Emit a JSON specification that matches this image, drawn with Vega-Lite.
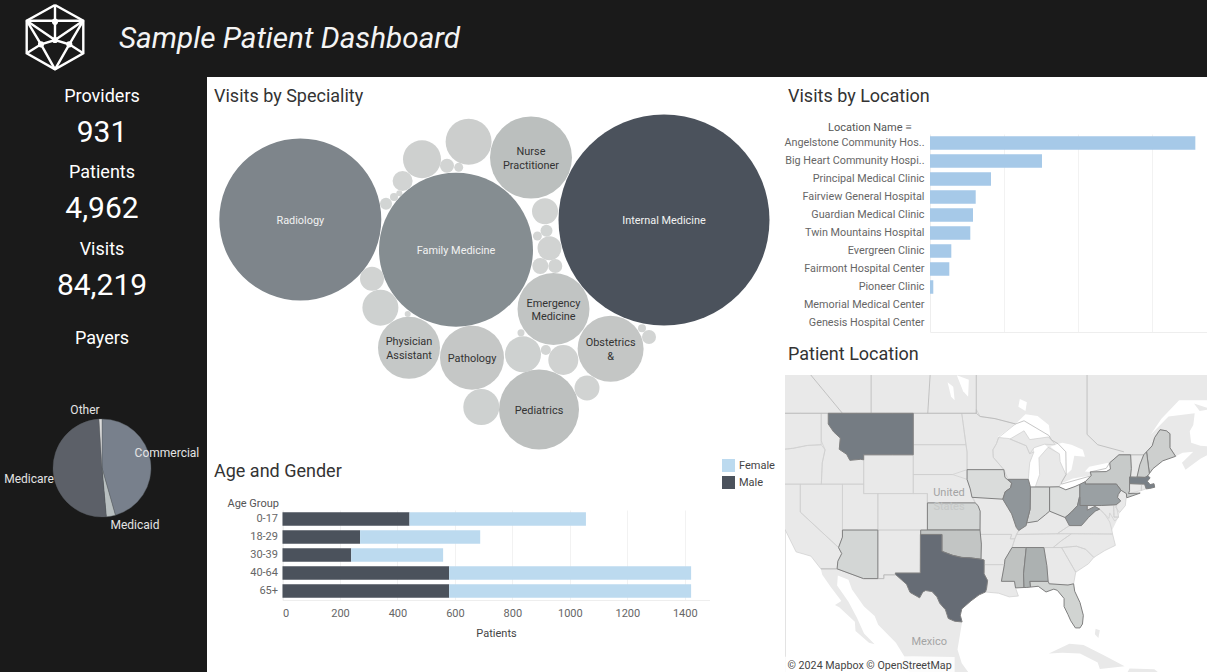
{"$schema":"https://vega.github.io/schema/vega-lite/v6.json","padding":0,"background":"#ffffff","autosize":{"type":"pad"},"config":{"font":"Roboto","view":{"stroke":null},"axis":{"labelFont":"Roboto","titleFont":"Roboto"},"legend":{"labelFont":"Roboto"},"title":{"font":"Roboto"}},"datasets":{
"logo":[{"seg":"hex","step":1,"x":55,"y":5},{"seg":"hex","step":2,"x":83.3,"y":20.7},{"seg":"hex","step":3,"x":83.3,"y":53.3},{"seg":"hex","step":4,"x":55,"y":69.3},{"seg":"hex","step":5,"x":26.7,"y":53.3},{"seg":"hex","step":6,"x":26.7,"y":20.7},{"seg":"hex","step":7,"x":55,"y":5},{"seg":"h","step":1,"x":26.7,"y":20.7},{"seg":"h","step":2,"x":83.3,"y":20.7},{"seg":"v","step":1,"x":55,"y":5},{"seg":"v","step":2,"x":55,"y":40},{"seg":"a","step":1,"x":26.7,"y":20.7},{"seg":"a","step":2,"x":55,"y":40},{"seg":"a","step":3,"x":83.3,"y":20.7},{"seg":"b","step":1,"x":26.7,"y":20.7},{"seg":"b","step":2,"x":41,"y":44.3},{"seg":"b","step":3,"x":55,"y":69.3},{"seg":"c","step":1,"x":83.3,"y":20.7},{"seg":"c","step":2,"x":69.3,"y":44.3},{"seg":"c","step":3,"x":55,"y":69.3},{"seg":"d","step":1,"x":26.7,"y":53.3},{"seg":"d","step":2,"x":41,"y":44.3},{"seg":"d","step":3,"x":55,"y":40},{"seg":"d","step":4,"x":69.3,"y":44.3},{"seg":"d","step":5,"x":83.3,"y":53.3}],
"logoNodes":[{"x":55,"y":21.7},{"x":41,"y":44.3},{"x":69.3,"y":44.3},{"x":55,"y":40}],
"payers":[{"payer":"Commercial","share":45.6,"rank":1,"labelAngle":76.7,"labelRadius":65.2},{"payer":"Medicaid","share":3,"rank":2,"labelAngle":151.1,"labelRadius":65.1},{"payer":"Medicare","share":50.4,"rank":3,"labelAngle":261.6,"labelRadius":75.3},{"payer":"Other","share":1,"rank":4,"labelAngle":342.3,"labelRadius":60.9}],
"bubbles":[{"specialty":"Internal Medicine","label":"Internal Medicine","visits":27158,"px":450,"py":110},{"specialty":"Radiology","label":"Radiology","visits":16009,"px":86.3,"py":109.5},{"specialty":"Family Medicine","label":"Family Medicine","visits":14467,"px":242,"py":139.7},{"specialty":"Nurse Practitioner","label":"Nurse\nPractitioner","visits":4102,"px":317,"py":47.5},{"specialty":"Pediatrics","label":"Pediatrics","visits":3904,"px":325,"py":299.5},{"specialty":"Emergency Medicine","label":"Emergency\nMedicine","visits":3162,"px":339.5,"py":199},{"specialty":"Obstetrics &","label":"Obstetrics\n&","visits":2657,"px":396.6,"py":238.8},{"specialty":"Pathology","label":"Pathology","visits":2499,"px":258,"py":247.7},{"specialty":"Physician Assistant","label":"Physician\nAssistant","visits":2345,"px":195,"py":237.8},{"specialty":"Other 1","visits":1291,"px":254.6,"py":31.7},{"specialty":"Other 2","visits":881,"px":208,"py":49.3},{"specialty":"Other 3","visits":244,"px":188.6,"py":71},{"specialty":"Other 4","visits":120,"px":233,"py":55.7},{"specialty":"Other 5","visits":49,"px":244.7,"py":57.3},{"specialty":"Other 6","visits":22,"px":185.3,"py":83.3},{"specialty":"Other 7","visits":39,"px":180,"py":87},{"specialty":"Other 8","visits":88,"px":172,"py":93.7},{"specialty":"Other 9","visits":412,"px":331,"py":101.3},{"specialty":"Other 10","visits":88,"px":332.5,"py":120.7},{"specialty":"Other 11","visits":49,"px":323.4,"py":126},{"specialty":"Other 12","visits":351,"px":335.5,"py":138.3},{"specialty":"Other 13","visits":156,"px":326.3,"py":156},{"specialty":"Other 14","visits":120,"px":341.3,"py":156},{"specialty":"Other 15","visits":351,"px":158,"py":168.7},{"specialty":"Other 16","visits":791,"px":166.4,"py":197.7},{"specialty":"Other 17","visits":22,"px":193.7,"py":204},{"specialty":"Other 18","visits":30,"px":307,"py":222.7},{"specialty":"Other 19","visits":791,"px":309,"py":244.3},{"specialty":"Other 20","visits":61,"px":331.8,"py":240},{"specialty":"Other 21","visits":549,"px":349.3,"py":250},{"specialty":"Other 22","visits":39,"px":428,"py":218.3},{"specialty":"Other 23","visits":120,"px":435,"py":227},{"specialty":"Other 24","visits":381,"px":373,"py":278},{"specialty":"Other 25","visits":791,"px":267.3,"py":297}],
"age":[{"group":"0-17","gender":"Male","rank":1,"patients":442},{"group":"0-17","gender":"Female","rank":2,"patients":614},{"group":"18-29","gender":"Male","rank":1,"patients":270},{"group":"18-29","gender":"Female","rank":2,"patients":418},{"group":"30-39","gender":"Male","rank":1,"patients":239},{"group":"30-39","gender":"Female","rank":2,"patients":320},{"group":"40-64","gender":"Male","rank":1,"patients":580},{"group":"40-64","gender":"Female","rank":2,"patients":842},{"group":"65+","gender":"Male","rank":1,"patients":580},{"group":"65+","gender":"Female","rank":2,"patients":842}],
"locations":[{"name":"Angelstone Community Hos..","visits":35850},{"name":"Big Heart Community Hospi..","visits":15130},{"name":"Principal Medical Clinic","visits":8240},{"name":"Fairview General Hospital","visits":6175},{"name":"Guardian Medical Clinic","visits":5810},{"name":"Twin Mountains Hospital","visits":5445},{"name":"Evergreen Clinic","visits":2880},{"name":"Fairmont Hospital Center","visits":2610},{"name":"Pioneer Clinic","visits":445},{"name":"Memorial Medical Center","visits":0},{"name":"Genesis Hospital Center","visits":0}],
"land":[{"type":"Feature","properties":{"name":"North America"},"geometry":{"type":"Polygon","coordinates":[[[-130,54],[-95,54],[-60,54],[-60,50.2],[-66.5,50.2],[-69,48.5],[-70.5,47],[-68,48.7],[-64.3,49],[-64.5,47.9],[-65,47.3],[-64.8,46.2],[-63.5,45.9],[-61.5,45.8],[-60,46.5],[-60,45.9],[-63.5,44.6],[-65.6,43.5],[-66.1,44.2],[-64.5,45.3],[-66,45.2],[-67,44.85],[-68.8,44.4],[-70.2,43.6],[-70.7,43.1],[-70.9,42.88],[-70.6,42.65],[-71,42.3],[-70.6,41.95],[-70.05,42.05],[-69.95,41.67],[-70.65,41.55],[-71.15,41.5],[-71.85,41.32],[-73.65,41],[-74.05,40.6],[-74,40.4],[-74.1,39.7],[-74.9,38.95],[-75.05,38.45],[-75.9,37.1],[-76,37],[-75.9,36.55],[-75.5,35.25],[-77,34.65],[-78.55,33.85],[-79.3,33.1],[-81.1,32.1],[-81.4,30.7],[-81.25,29.8],[-80.5,28.4],[-80.03,26.8],[-80.15,25.7],[-80.5,25.2],[-81.15,25.2],[-81.8,26.1],[-82.2,26.9],[-82.75,27.9],[-82.75,28.9],[-83.7,29.9],[-84.2,30.05],[-85.3,29.7],[-86.4,30.4],[-87.5,30.3],[-88.4,30.25],[-89.6,30.2],[-89.2,29.2],[-90.5,29.1],[-92,29.55],[-93.85,29.7],[-94.75,29.35],[-95.9,28.6],[-97.2,27.6],[-97.4,26.8],[-97.15,25.96],[-97.8,22.4],[-97.2,20.6],[-96.1,19.2],[-95,18.6],[-94.4,18.2],[-94.5,16],[-100,16.8],[-105.5,20],[-105.3,21.5],[-106.5,23.3],[-109,25.6],[-109.5,26.7],[-111,27.9],[-112.7,30],[-113.2,31.2],[-114.7,31.7],[-114.8,30.5],[-113.2,28.5],[-112,26.5],[-111,24.5],[-109.5,23.1],[-110.3,23.3],[-112.2,24.8],[-112.3,26],[-114.5,27.8],[-115.1,28.1],[-114.2,28.6],[-115.7,30.3],[-116.9,31.8],[-117.1,32.5],[-118.5,34],[-120.6,34.5],[-122,36.8],[-123.8,39.5],[-124.2,42],[-124.5,43],[-124,46.25],[-124.7,48.4],[-123,48.3],[-125,50],[-130,54]]]}},{"type":"Feature","properties":{"name":"Cuba"},"geometry":{"type":"Polygon","coordinates":[[[-84.9,21.9],[-82,23.15],[-80,23],[-77,21.6],[-74.2,20.2],[-77.7,19.85],[-78,20.7],[-80.5,21.9],[-83,22],[-84.9,21.9]]]}},{"type":"Feature","properties":{"name":"Hispaniola"},"geometry":{"type":"Polygon","coordinates":[[[-73.5,19.9],[-70,19.8],[-68.4,18.6],[-71,18],[-74.4,18.4],[-73.5,19.9]]]}},{"type":"Feature","properties":{"name":"Andros"},"geometry":{"type":"Polygon","coordinates":[[[-78.3,25.1],[-77.7,24.9],[-77.9,23.9],[-78.4,24.4],[-78.3,25.1]]]}},{"type":"Feature","properties":{"name":"Anticosti"},"geometry":{"type":"Polygon","coordinates":[[[-64.4,49.9],[-62,49.4],[-63.6,49.2],[-64.4,49.9]]]}}],
"lakes":[{"type":"Feature","properties":{"name":"Superior"},"geometry":{"type":"Polygon","coordinates":[[[-92.1,46.75],[-89.6,48],[-88.2,48.9],[-86.5,48.75],[-84.9,47.9],[-84.7,46.9],[-85,46.75],[-87.6,46.5],[-88.4,47.35],[-90.4,46.55],[-92.1,46.75]]]}},{"type":"Feature","properties":{"name":"Michigan"},"geometry":{"type":"Polygon","coordinates":[[[-87,45.7],[-85.5,46.05],[-85,45.75],[-86.3,44.7],[-86.2,43],[-86.8,41.75],[-87.5,41.7],[-87.8,42.5],[-87.6,44.2],[-87,45.3],[-87,45.7]]]}},{"type":"Feature","properties":{"name":"Huron"},"geometry":{"type":"Polygon","coordinates":[[[-84,46],[-83,46.2],[-81.7,46],[-80.1,45.5],[-79.8,44.8],[-81.3,44.9],[-81.7,43.5],[-82.45,43],[-83.3,44.3],[-83.4,45.1],[-84.7,45.8],[-84,46]]]}},{"type":"Feature","properties":{"name":"Erie"},"geometry":{"type":"Polygon","coordinates":[[[-83.1,42.1],[-81.5,42.6],[-79,42.9],[-78.9,42.85],[-79.76,42.26],[-80.52,41.98],[-81.2,41.75],[-82.5,41.4],[-83.45,41.72],[-83.1,42.1]]]}},{"type":"Feature","properties":{"name":"Ontario"},"geometry":{"type":"Polygon","coordinates":[[[-79.8,43.3],[-79.2,43.8],[-76.5,44.2],[-76.2,43.55],[-76.8,43.3],[-79.05,43.27],[-79.8,43.3]]]}},{"type":"Feature","properties":{"name":"Lake Manitoba"},"geometry":{"type":"Polygon","coordinates":[[[-99.2,51.8],[-98.4,51.4],[-98.2,50.2],[-98.7,50.5],[-99.2,51.8]]]}},{"type":"Feature","properties":{"name":"Lake Winnipeg"},"geometry":{"type":"Polygon","coordinates":[[[-97.9,52.4],[-96.2,52],[-96.3,50.5],[-97,51],[-97.9,52.4]]]}},{"type":"Feature","properties":{"name":"Nipigon"},"geometry":{"type":"Polygon","coordinates":[[[-89,50.3],[-88,50],[-88.2,49.2],[-89.2,49.6],[-89,50.3]]]}}],
"plainStates":[{"type":"Feature","properties":{"name":"Wyoming"},"geometry":{"type":"Polygon","coordinates":[[[-111.05,45],[-104.05,45],[-104.05,41],[-111.05,41],[-111.05,45]]]}},{"type":"Feature","properties":{"name":"Colorado"},"geometry":{"type":"Polygon","coordinates":[[[-109.05,41],[-102.05,41],[-102.05,37],[-109.05,37],[-109.05,41]]]}},{"type":"Feature","properties":{"name":"New Mexico"},"geometry":{"type":"Polygon","coordinates":[[[-109.05,37],[-103,37],[-103.05,32],[-106.6,32],[-106.5,31.78],[-108.2,31.78],[-108.2,31.33],[-109.05,31.33],[-109.05,37]]]}},{"type":"Feature","properties":{"name":"Utah"},"geometry":{"type":"Polygon","coordinates":[[[-114.05,42],[-111.05,42],[-111.05,41],[-109.05,41],[-109.05,37],[-114.05,37],[-114.05,42]]]}},{"type":"Feature","properties":{"name":"Nevada"},"geometry":{"type":"Polygon","coordinates":[[[-120,42],[-114.05,42],[-114.05,36.2],[-114.6,35],[-120,39],[-120,42]]]}},{"type":"Feature","properties":{"name":"Idaho"},"geometry":{"type":"Polygon","coordinates":[[[-117.05,49],[-116.05,49],[-116.05,48],[-115.3,47.25],[-114.35,46.65],[-114.5,45.55],[-113.45,45.05],[-113,44.45],[-111.5,44.55],[-111.05,44.5],[-111.05,42],[-117.03,42],[-116.9,44.2],[-116.5,45.5],[-117.05,46.4],[-117.05,49]]]}},{"type":"Feature","properties":{"name":"Washington"},"geometry":{"type":"Polygon","coordinates":[[[-124.7,48.4],[-123,48.3],[-122.8,49],[-117.05,49],[-117.05,46],[-119,45.93],[-121,45.65],[-122.3,45.55],[-123.2,46.15],[-124,46.25],[-124.7,48.4]]]}},{"type":"Feature","properties":{"name":"Oregon"},"geometry":{"type":"Polygon","coordinates":[[[-124,46.25],[-123.2,46.15],[-122.3,45.55],[-121,45.65],[-119,45.93],[-117.05,46],[-116.5,45.5],[-116.9,44.2],[-117.03,42],[-124.2,42],[-124.5,43],[-124,46.25]]]}},{"type":"Feature","properties":{"name":"California"},"geometry":{"type":"Polygon","coordinates":[[[-124.2,42],[-120,42],[-120,39],[-114.6,35],[-114.15,34.3],[-114.7,33.4],[-114.8,32.5],[-117.1,32.5],[-118.5,34],[-120.6,34.5],[-122,36.8],[-123.8,39.5],[-124.2,42]]]}},{"type":"Feature","properties":{"name":"North Dakota"},"geometry":{"type":"Polygon","coordinates":[[[-104.05,49],[-100,49],[-97.2,49],[-96.6,46],[-104.05,46],[-104.05,49]]]}},{"type":"Feature","properties":{"name":"South Dakota"},"geometry":{"type":"Polygon","coordinates":[[[-104.05,46],[-96.6,46],[-96.45,45.3],[-96.45,43.5],[-98.5,43],[-104.05,43],[-104.05,46]]]}},{"type":"Feature","properties":{"name":"Nebraska"},"geometry":{"type":"Polygon","coordinates":[[[-104.05,43],[-98.5,43],[-96.45,42.5],[-96,41.5],[-95.3,40],[-102.05,40],[-102.05,41],[-104.05,41],[-104.05,43]]]}},{"type":"Feature","properties":{"name":"Minnesota"},"geometry":{"type":"Polygon","coordinates":[[[-97.2,49],[-95.15,49],[-95.15,49.35],[-94.6,48.7],[-92.5,48.5],[-89.6,48],[-92,46.7],[-92.3,46.1],[-92.8,45.5],[-92.75,44.75],[-91.25,43.5],[-96.45,43.5],[-96.45,45.3],[-96.6,46],[-97.2,49]]]}},{"type":"Feature","properties":{"name":"Missouri"},"geometry":{"type":"Polygon","coordinates":[[[-95.75,40.6],[-91.7,40.6],[-91.4,40.4],[-90.7,39.5],[-90.15,38.8],[-89.5,37.3],[-89.15,36.95],[-89.7,36],[-90.35,36],[-90.15,36.5],[-94.62,36.5],[-94.62,39.1],[-94.9,39.7],[-95.3,40],[-95.75,40.6]]]}},{"type":"Feature","properties":{"name":"Arkansas"},"geometry":{"type":"Polygon","coordinates":[[[-94.62,36.5],[-90.15,36.5],[-90.35,36],[-89.7,36],[-90.1,35],[-91.1,33.6],[-91.17,33],[-94.04,33],[-94.04,33.55],[-94.48,33.64],[-94.43,35.4],[-94.62,36.5]]]}},{"type":"Feature","properties":{"name":"Louisiana"},"geometry":{"type":"Polygon","coordinates":[[[-94.04,33],[-91.17,33],[-91.6,31],[-89.75,31],[-89.6,30.2],[-89.2,29.2],[-90.5,29.1],[-92,29.55],[-93.85,29.7],[-93.7,30.1],[-93.55,31.1],[-94.05,31.9],[-94.04,33]]]}},{"type":"Feature","properties":{"name":"Georgia"},"geometry":{"type":"Polygon","coordinates":[[[-85.6,35],[-83.1,35],[-81.1,32.1],[-81.4,30.7],[-82,30.55],[-84.85,30.7],[-85,31],[-85.18,32.87],[-85.6,35]]]}},{"type":"Feature","properties":{"name":"South Carolina"},"geometry":{"type":"Polygon","coordinates":[[[-83.1,35],[-81,35.15],[-79.7,34.8],[-78.55,33.85],[-79.3,33.1],[-81.1,32.1],[-83.1,35]]]}},{"type":"Feature","properties":{"name":"North Carolina"},"geometry":{"type":"Polygon","coordinates":[[[-81.7,36.58],[-75.9,36.55],[-75.5,35.25],[-77,34.65],[-78.55,33.85],[-79.7,34.8],[-81,35.15],[-83.1,35],[-84.3,35],[-83.1,35.8],[-81.7,36.58]]]}},{"type":"Feature","properties":{"name":"Tennessee"},"geometry":{"type":"Polygon","coordinates":[[[-89.5,36.5],[-81.7,36.58],[-83.1,35.8],[-84.3,35],[-85.6,35],[-88.2,35],[-90.1,35],[-89.7,36],[-89.5,36.5]]]}},{"type":"Feature","properties":{"name":"Kentucky"},"geometry":{"type":"Polygon","coordinates":[[[-84.8,39.1],[-82.6,38.4],[-82,37.5],[-83.68,36.6],[-89.5,36.5],[-89.15,36.95],[-88.1,37.8],[-86.5,38],[-85.4,38.7],[-84.8,39.1]]]}},{"type":"Feature","properties":{"name":"Virginia"},"geometry":{"type":"Polygon","coordinates":[[[-83.68,36.6],[-82,37.5],[-80.3,37.5],[-79.3,38.4],[-78.35,39.1],[-77.72,39.32],[-77.05,38.8],[-76.3,37.9],[-76,37],[-75.9,36.55],[-81.7,36.58],[-83.68,36.6]]]}},{"type":"Feature","properties":{"name":"Wisconsin"},"geometry":{"type":"Polygon","coordinates":[[[-92,46.7],[-90.5,46.6],[-88.1,45.9],[-87.6,45.1],[-87,45.3],[-87.6,44.2],[-87.8,42.5],[-90.65,42.5],[-91.25,43.5],[-92.75,44.75],[-92.8,45.5],[-92.3,46.1],[-92,46.7]]]}},{"type":"Feature","properties":{"name":"Michigan Upper"},"geometry":{"type":"Polygon","coordinates":[[[-90.4,46.55],[-88.4,47.35],[-87.6,46.5],[-85,46.75],[-84.5,46.45],[-84,46],[-85.5,46.05],[-87,45.7],[-87.6,45.1],[-88.1,45.9],[-90.4,46.55]]]}},{"type":"Feature","properties":{"name":"Michigan Lower"},"geometry":{"type":"Polygon","coordinates":[[[-85,45.75],[-83.4,45.1],[-83.3,44.3],[-82.5,43],[-83.1,42.2],[-83.45,41.72],[-84.8,41.7],[-86.8,41.75],[-86.2,43],[-86.3,44.7],[-85,45.75]]]}},{"type":"Feature","properties":{"name":"New Jersey"},"geometry":{"type":"Polygon","coordinates":[[[-74.7,41.35],[-73.9,41],[-74,40.4],[-74.1,39.7],[-74.9,38.95],[-75.5,39.55],[-74.75,40.2],[-75.2,40.6],[-75.1,40.9],[-74.7,41.35]]]}},{"type":"Feature","properties":{"name":"Delaware"},"geometry":{"type":"Polygon","coordinates":[[[-75.75,39.72],[-75.4,39.8],[-75.05,38.45],[-75.7,38.45],[-75.75,39.72]]]}},{"type":"Feature","properties":{"name":"Maryland"},"geometry":{"type":"Polygon","coordinates":[[[-79.48,39.72],[-75.75,39.72],[-75.7,38.45],[-75.05,38.45],[-75.6,38],[-76.3,38.9],[-76.4,38.3],[-77.05,38.8],[-77.7,39.3],[-78.4,39.62],[-79.48,39.2],[-79.48,39.72]]]}},{"type":"Feature","properties":{"name":"Connecticut"},"geometry":{"type":"Polygon","coordinates":[[[-73.5,42.05],[-71.8,42],[-71.85,41.32],[-73.65,41],[-73.5,42.05]]]}},{"type":"Feature","properties":{"name":"Rhode Island"},"geometry":{"type":"Polygon","coordinates":[[[-71.8,42],[-71.38,42],[-71.15,41.5],[-71.85,41.32],[-71.8,42]]]}},{"type":"Feature","properties":{"name":"Vermont"},"geometry":{"type":"Polygon","coordinates":[[[-73.35,45],[-71.5,45],[-72.05,44],[-72.45,42.73],[-73.27,42.75],[-73.25,43.6],[-73.35,45]]]}}],
"patientStates":[{"type":"Feature","properties":{"name":"Ohio","patients":100},"geometry":{"type":"Polygon","coordinates":[[[-84.8,41.7],[-83.45,41.72],[-82.5,41.4],[-81.2,41.75],[-80.52,41.98],[-80.52,40.64],[-80.85,39.7],[-81.7,39],[-82.6,38.4],[-84.8,39.1],[-84.8,41.7]]]}},{"type":"Feature","properties":{"name":"Iowa","patients":115},"geometry":{"type":"Polygon","coordinates":[[[-96.45,43.5],[-91.25,43.5],[-91.1,42.7],[-90.15,42.1],[-90.3,41.6],[-91.05,41.2],[-91.4,40.4],[-95.75,40.6],[-96,41.5],[-96.45,42.5],[-96.45,43.5]]]}},{"type":"Feature","properties":{"name":"Indiana","patients":125},"geometry":{"type":"Polygon","coordinates":[[[-87.5,41.7],[-84.8,41.7],[-84.8,39.1],[-85.4,38.7],[-86.5,38],[-88.05,37.8],[-87.55,39.3],[-87.5,41.7]]]}},{"type":"Feature","properties":{"name":"Kansas","patients":145},"geometry":{"type":"Polygon","coordinates":[[[-102.05,40],[-98,40],[-95.3,40],[-94.9,39.7],[-94.6,39.1],[-94.62,37],[-98,37],[-102.05,37],[-102.05,40]]]}},{"type":"Feature","properties":{"name":"Arizona","patients":145},"geometry":{"type":"Polygon","coordinates":[[[-114.05,37],[-109.05,37],[-109.05,31.33],[-111.07,31.33],[-114.8,32.5],[-114.7,33.4],[-114.15,34.3],[-114.6,35],[-114.05,36.2],[-114.05,37]]]}},{"type":"Feature","properties":{"name":"Florida","patients":155},"geometry":{"type":"Polygon","coordinates":[[[-87.6,31],[-85,31],[-84.85,30.7],[-82.2,30.55],[-81.4,30.7],[-81.25,29.8],[-80.5,28.4],[-80.03,26.8],[-80.15,25.7],[-80.5,25.2],[-81.15,25.2],[-81.8,26.1],[-82.2,26.9],[-82.75,27.9],[-82.75,28.9],[-83.7,29.9],[-84.2,30.05],[-85.3,29.7],[-86.4,30.4],[-87.5,30.3],[-87.6,31]]]}},{"type":"Feature","properties":{"name":"Maine","patients":175},"geometry":{"type":"Polygon","coordinates":[[[-71.1,45.3],[-70.3,45.9],[-69.95,46.7],[-69.2,47.45],[-68.3,47.35],[-67.8,47.07],[-67.8,45.7],[-67,44.85],[-68.8,44.4],[-70.2,43.6],[-70.7,43.1],[-71.1,45.3]]]}},{"type":"Feature","properties":{"name":"New Hampshire","patients":175},"geometry":{"type":"Polygon","coordinates":[[[-71.5,45],[-71.1,45.3],[-70.7,43.1],[-70.9,42.88],[-71.3,42.7],[-72.45,42.73],[-72.05,44],[-71.5,45]]]}},{"type":"Feature","properties":{"name":"New York","patients":200},"geometry":{"type":"Polygon","coordinates":[[[-79.76,42.26],[-78.9,42.9],[-79.05,43.27],[-76.8,43.3],[-76.2,43.55],[-76.3,44.2],[-75,45],[-73.35,45],[-73.25,43.6],[-73.5,42.05],[-73.5,41.3],[-73.65,41],[-72,41.05],[-73.9,40.55],[-73.95,41],[-74.7,41.35],[-75.35,42],[-79.76,42],[-79.76,42.26]]]}},{"type":"Feature","properties":{"name":"Oklahoma","patients":225},"geometry":{"type":"Polygon","coordinates":[[[-103,37],[-98,37],[-94.62,37],[-94.43,35.4],[-94.48,33.64],[-96,33.8],[-97.2,33.85],[-98.5,34.1],[-100,34.56],[-100,36.5],[-103,36.5],[-103,37]]]}},{"type":"Feature","properties":{"name":"Mississippi","patients":240},"geometry":{"type":"Polygon","coordinates":[[[-90.1,35],[-88.2,35],[-88.1,34.9],[-88.47,31.9],[-88.4,30.25],[-89.6,30.2],[-89.75,31],[-91.6,31],[-91.17,33],[-91.1,33.6],[-90.1,35]]]}},{"type":"Feature","properties":{"name":"Alabama","patients":320},"geometry":{"type":"Polygon","coordinates":[[[-88.2,35],[-85.6,35],[-85.18,32.87],[-85,31],[-87.6,31],[-87.5,30.3],[-88.1,30.25],[-88.4,30.25],[-88.47,31.9],[-88.1,34.9],[-88.2,35]]]}},{"type":"Feature","properties":{"name":"Pennsylvania","patients":400},"geometry":{"type":"Polygon","coordinates":[[[-80.52,41.98],[-79.76,42.26],[-79.76,42],[-75.35,42],[-74.7,41.35],[-75.1,40.9],[-75.2,40.6],[-74.75,40.2],[-75.4,39.8],[-77.5,39.72],[-80.52,39.72],[-80.52,41.98]]]}},{"type":"Feature","properties":{"name":"West Virginia","patients":450},"geometry":{"type":"Polygon","coordinates":[[[-82.6,38.4],[-81.7,39],[-80.85,39.7],[-80.6,40.62],[-80.52,40.64],[-80.52,39.72],[-79.48,39.72],[-79.48,39.2],[-78.4,39.62],[-77.72,39.32],[-78.35,39.1],[-79.3,38.4],[-80.3,37.5],[-82,37.5],[-82.6,38.4]]]}},{"type":"Feature","properties":{"name":"Illinois","patients":460},"geometry":{"type":"Polygon","coordinates":[[[-90.65,42.5],[-87.8,42.5],[-87.5,41.7],[-87.55,39.3],[-88.05,37.8],[-88.1,37.5],[-89.15,36.95],[-89.5,37.3],[-90.15,38.8],[-90.7,39.5],[-91.4,40.4],[-91.05,41.2],[-90.3,41.6],[-90.15,42.1],[-90.65,42.5]]]}},{"type":"Feature","properties":{"name":"Massachusetts","patients":600},"geometry":{"type":"Polygon","coordinates":[[[-73.5,42.75],[-71.3,42.7],[-70.9,42.88],[-70.6,42.65],[-71,42.3],[-70.6,41.95],[-70.05,42.05],[-69.95,41.67],[-70.65,41.55],[-71.15,41.5],[-71.38,42],[-71.8,42],[-73.5,42.05],[-73.5,42.75]]]}},{"type":"Feature","properties":{"name":"Montana","patients":630},"geometry":{"type":"Polygon","coordinates":[[[-116.05,49],[-113,49],[-110,49],[-107,49],[-104.05,49],[-104.05,45],[-107,45],[-111.05,45],[-111.05,44.5],[-111.5,44.55],[-113,44.45],[-113.45,45.05],[-114.5,45.55],[-114.35,46.65],[-115.3,47.25],[-116.05,48],[-116.05,49]]]}},{"type":"Feature","properties":{"name":"Texas","patients":730},"geometry":{"type":"Polygon","coordinates":[[[-103.04,36.5],[-100,36.5],[-100,34.56],[-98.5,34.1],[-97.2,33.85],[-96,33.8],[-94.48,33.64],[-94.04,33.55],[-94.04,33],[-94.05,31.9],[-93.55,31.1],[-93.7,30.1],[-93.85,29.7],[-94.75,29.35],[-95.9,28.6],[-97.2,27.6],[-97.4,26.8],[-97.15,25.96],[-98.2,26.05],[-99.1,26.4],[-99.5,27.5],[-100.3,28.3],[-100.7,29.1],[-101.4,29.75],[-102.3,29.88],[-102.7,29.7],[-103.15,28.98],[-104.5,29.65],[-105,30.65],[-106.5,31.78],[-106.6,32],[-103.05,32],[-103.04,36.5]]]}}],
"borders":[{"type":"Feature","properties":{"name":"Canada-US"},"geometry":{"type":"LineString","coordinates":[[-122.8,49],[-120,49],[-116,49],[-112,49],[-108,49],[-104,49],[-100,49],[-95.15,49],[-94.6,48.7],[-92.5,48.5],[-89.6,48],[-88.4,48.3],[-84.9,46.9],[-84.5,46.45],[-83.6,46.1],[-82.5,45.3],[-82.45,43],[-83.1,42.2],[-83.1,42],[-79,42.85],[-79.05,43.27],[-76.8,43.63],[-76.3,44.2],[-75,45],[-71.5,45],[-71.1,45.3],[-70.3,45.9],[-69.95,46.7],[-69.2,47.45],[-68.3,47.35],[-67.8,47.07],[-67.8,45.7],[-67,44.85]]}},{"type":"Feature","properties":{"name":"Mexico-US"},"geometry":{"type":"LineString","coordinates":[[-117.1,32.5],[-114.8,32.5],[-111.07,31.33],[-108.2,31.33],[-108.2,31.78],[-106.5,31.78]]}},{"type":"Feature","properties":{"name":"Alberta-Saskatchewan"},"geometry":{"type":"LineString","coordinates":[[-110,49],[-110,54]]}},{"type":"Feature","properties":{"name":"Saskatchewan-Manitoba"},"geometry":{"type":"LineString","coordinates":[[-102,49],[-101.5,54]]}},{"type":"Feature","properties":{"name":"Manitoba-Ontario"},"geometry":{"type":"LineString","coordinates":[[-95.15,49],[-95.15,54]]}},{"type":"Feature","properties":{"name":"BC-Alberta"},"geometry":{"type":"LineString","coordinates":[[-114.05,49],[-120,53.5]]}},{"type":"Feature","properties":{"name":"Ontario-Quebec"},"geometry":{"type":"LineString","coordinates":[[-79.5,54],[-79.5,47],[-78,46],[-74.3,45.3]]}}],
"attributionBox":[{"type":"Feature","properties":{"name":"box"},"geometry":{"type":"Polygon","coordinates":[[[-122.5,21.44],[-110,21.44],[-98.2,21.44],[-98.2,19],[-110,19],[-122.5,19],[-122.5,21.44]]]}}],
"placeNames":[{"place":"United","lon":-99,"lat":41.1,"tone":"a"},{"place":"States","lon":-99,"lat":39.55,"tone":"b"},{"place":"Mexico","lon":-101.8,"lat":23.44,"tone":"a"}],
"attribution":[{"note":"© 2024 Mapbox  © OpenStreetMap","lon":-121.8,"lat":20.3}]
},
"spacing":0,"align":"none",
"vconcat":[
{"spacing":0,"align":"none","hconcat":[
{"width":119,"height":77,"view":{"fill":"#1a1a1a","stroke":null},"layer":[
{"data":{"name":"logo"},"mark":{"type":"line","color":"#ffffff","strokeWidth":2.4},"encoding":{"x":{"field":"x","type":"quantitative","scale":{"domain":[0,119],"nice":false},"axis":null},"y":{"field":"y","type":"quantitative","scale":{"domain":[77,0],"nice":false},"axis":null},"detail":{"field":"seg"},"order":{"field":"step"}}},
{"data":{"name":"logoNodes"},"mark":{"type":"circle","color":"#ffffff","size":38,"opacity":1},"encoding":{"x":{"field":"x","type":"quantitative"},"y":{"field":"y","type":"quantitative"}}}]},
{"width":1088,"height":77,"view":{"fill":"#1a1a1a","stroke":null},"data":{"values":[{"title":"Sample Patient Dashboard","start":0}]},"mark":{"type":"text","align":"left","baseline":"middle","font":"Roboto","fontStyle":"italic","fontWeight":400,"fontSize":29.7,"color":"#f4f4f4"},"encoding":{"x":{"field":"start","type":"quantitative","scale":{"domain":[0,1]},"axis":null},"text":{"field":"title"}}}
]},
{"spacing":5,"align":"none","hconcat":[
{"spacing":0,"align":"none","vconcat":[
{"width":207,"height":77,"view":{"fill":"#1a1a1a","stroke":null},"data":{"values":[{"kind":"label","text":"Providers"},{"kind":"value","text":"931"}]},"mark":{"type":"text","font":"Roboto","color":"#ffffff","dx":-1.5},"encoding":{"y":{"field":"kind","type":"nominal","scale":{"type":"point","domain":["label","value"],"range":[19.5,56],"padding":0},"axis":null},"text":{"field":"text"},"size":{"condition":{"test":"datum.kind==='value'","value":30},"value":18}}},
{"width":207,"height":77,"view":{"fill":"#1a1a1a","stroke":null},"data":{"values":[{"kind":"label","text":"Patients"},{"kind":"value","text":"4,962"}]},"mark":{"type":"text","font":"Roboto","color":"#ffffff","dx":-1.5},"encoding":{"y":{"field":"kind","type":"nominal","scale":{"type":"point","domain":["label","value"],"range":[18.5,55],"padding":0},"axis":null},"text":{"field":"text"},"size":{"condition":{"test":"datum.kind==='value'","value":30},"value":18}}},
{"width":207,"height":77,"view":{"fill":"#1a1a1a","stroke":null},"data":{"values":[{"kind":"label","text":"Visits"},{"kind":"value","text":"84,219"}]},"mark":{"type":"text","font":"Roboto","color":"#ffffff","dx":-1.5},"encoding":{"y":{"field":"kind","type":"nominal","scale":{"type":"point","domain":["label","value"],"range":[18.5,55],"padding":0},"axis":null},"text":{"field":"text"},"size":{"condition":{"test":"datum.kind==='value'","value":30},"value":18}}},
{"width":207,"height":60,"view":{"fill":"#1a1a1a","stroke":null},"data":{"values":[{"text":"Payers"}]},"mark":{"type":"text","font":"Roboto","fontSize":18,"color":"#ffffff","dx":-1.5,"dy":1},"encoding":{"text":{"field":"text"}}},
{"width":207,"height":200,"view":{"fill":"#1a1a1a","stroke":null},"data":{"name":"payers"},"resolve":{"scale":{"theta":"independent","radius":"independent"}},"layer":[
{"mark":{"type":"arc","radius":49,"stroke":"#555a60","strokeWidth":0.4,"xOffset":-1.5},"encoding":{"theta":{"field":"share","type":"quantitative","stack":true},"order":{"field":"rank"},"color":{"field":"payer","type":"nominal","scale":{"domain":["Commercial","Medicaid","Medicare","Other"],"range":["#78808c","#b8bfc0","#5c6068","#dcdcdc"]},"legend":null}}},
{"mark":{"type":"text","font":"Roboto","fontSize":12,"color":"#e4e4e4"},"encoding":{"theta":{"field":"labelAngle","type":"quantitative","stack":null,"scale":{"domain":[0,360],"range":[0,6.28318]}},"radius":{"field":"labelRadius","type":"quantitative","scale":{"type":"linear","domain":[0,100],"range":[0,100]}},"text":{"field":"payer"}}}]},
{"width":207,"height":104,"view":{"fill":"#1a1a1a","stroke":null},"data":{"values":[{"t":""}]},"mark":{"type":"text","fontSize":0},"encoding":{"text":{"field":"t"}}}
]},
{"spacing":9,"align":"none","vconcat":[
{"width":566,"height":2,"data":{"values":[{"t":""}]},"mark":{"type":"text","fontSize":0},"encoding":{"text":{"field":"t"}}},
{"width":564,"height":340,"title":{"text":"Visits by Speciality","anchor":"start","frame":"group","fontSize":18,"fontWeight":400,"color":"#333333","offset":4,"dx":2},"data":{"name":"bubbles"},"layer":[
{"mark":{"type":"circle","opacity":1,"clip":true},"encoding":{"x":{"field":"px","type":"quantitative","scale":{"domain":[0,564],"nice":false,"range":[2,566]},"axis":null},"y":{"field":"py","type":"quantitative","scale":{"domain":[340,0],"nice":false},"axis":null},"size":{"field":"visits","type":"quantitative","scale":{"domain":[0,10000],"range":[0,16393]},"legend":null},"color":{"field":"visits","type":"quantitative","scale":{"type":"linear","domain":[0,4000,15000,27158],"range":["#d3d5d4","#bcbfbe","#838a8f","#4b525c"]},"legend":null}}},
{"transform":[{"filter":"datum.label && indexof(datum.label,'\\n')<0"}],"mark":{"type":"text","font":"Roboto","fontSize":10.9,"dy":1},"encoding":{"x":{"field":"px","type":"quantitative"},"y":{"field":"py","type":"quantitative"},"text":{"field":"label"},"color":{"condition":{"test":"datum.visits>10000","value":"#f2f2f2"},"value":"#333333"}}},
{"transform":[{"filter":"datum.label && indexof(datum.label,'\\n')>=0"}],"mark":{"type":"text","font":"Roboto","fontSize":10.9,"lineBreak":"\n","lineHeight":13.5,"dy":-5.5},"encoding":{"x":{"field":"px","type":"quantitative"},"y":{"field":"py","type":"quantitative"},"text":{"field":"label"},"color":{"value":"#333333"}}}]},
{"width":564,"height":90,"title":{"text":"Age and Gender","anchor":"start","frame":"group","fontSize":18,"fontWeight":400,"color":"#333333","offset":-22,"dx":2},"data":{"name":"age"},"mark":{"type":"bar"},"encoding":{"y":{"field":"group","type":"nominal","sort":["0-17","18-29","30-39","40-64","65+"],"scale":{"paddingInner":0.25,"paddingOuter":0.125},"axis":{"offset":-70.5,"title":"Age Group","titleAngle":0,"titleAlign":"right","titleBaseline":"bottom","titleX":-4,"titleY":-2,"titleFontSize":11,"titleFontWeight":400,"titleColor":"#555555","labelFontSize":11,"labelColor":"#666666","labelPadding":5,"ticks":false,"domainColor":"#eeeeee"}},"x":{"field":"patients","type":"quantitative","stack":"zero","scale":{"domain":[0,1486],"nice":false,"range":[70.5,497.5]},"axis":{"values":[0,200,400,600,800,1000,1200,1400],"format":"d","title":"Patients","titleFontSize":11,"titleFontWeight":400,"titleColor":"#444444","titlePadding":9,"labelFontSize":11,"labelColor":"#666666","labelPadding":7,"ticks":false,"grid":true,"gridColor":"#f2f2f2","domainColor":"#eeeeee"}},"order":{"field":"rank"},"color":{"field":"gender","type":"nominal","scale":{"domain":["Female","Male"],"range":["#bcdaef","#4b525c"]},"legend":{"orient":"none","legendX":510,"legendY":-51,"title":null,"symbolType":"square","symbolSize":169,"symbolStrokeWidth":0,"labelFontSize":11,"labelColor":"#444444","rowPadding":4}}}}
]},
{"spacing":6,"align":"none","vconcat":[
{"width":422,"height":5,"data":{"values":[{"t":""}]},"mark":{"type":"text","fontSize":0},"encoding":{"text":{"field":"t"}}},
{"width":422,"height":198,"title":{"text":"Visits by Location","anchor":"start","frame":"group","fontSize":18,"fontWeight":400,"color":"#333333","dx":3,"offset":15},"data":{"name":"locations"},"mark":{"type":"bar","color":"#a6c9e8"},"encoding":{"y":{"field":"name","type":"nominal","sort":null,"scale":{"paddingInner":0.25,"paddingOuter":0.125},"axis":{"offset":-145,"title":"Location Name ≡","titleAngle":0,"titleAlign":"right","titleBaseline":"bottom","titleX":-19,"titleY":-2,"titleFontSize":11,"titleFontWeight":400,"titleColor":"#555555","labelFontSize":10.8,"labelColor":"#666666","labelPadding":6,"labelLimit":200,"ticks":false,"domainColor":"#eeeeee"}},"x":{"field":"visits","type":"quantitative","scale":{"domain":[0,37425],"nice":false,"range":[145,422]},"axis":{"values":[10000,20000,30000],"title":null,"labels":false,"ticks":false,"grid":true,"gridColor":"#f2f2f2","domainColor":"#eeeeee"}}}},
{"width":422,"height":0.5,"data":{"values":[{"t":""}]},"mark":{"type":"text","fontSize":0},"encoding":{"text":{"field":"t"}}},
{"width":422,"height":297,"view":{"stroke":"#e3e3e3","fill":"#ffffff"},"title":{"text":"Patient Location","anchor":"start","frame":"group","fontSize":18,"fontWeight":400,"color":"#333333","dx":3,"offset":11},"projection":{"type":"mercator","scale":405.7,"translate":[865,437.4]},"layer":[
{"data":{"name":"land"},"mark":{"type":"geoshape","fill":"#e9e9e9","stroke":null,"clip":true}},
{"data":{"name":"lakes"},"mark":{"type":"geoshape","fill":"#ffffff","stroke":null,"clip":true}},
{"data":{"name":"plainStates"},"mark":{"type":"geoshape","filled":false,"stroke":"#cfcfcf","strokeWidth":0.7,"clip":true}},
{"data":{"name":"borders"},"mark":{"type":"geoshape","filled":false,"stroke":"#b8b8b8","strokeWidth":0.8,"clip":true}},
{"data":{"name":"patientStates"},"mark":{"type":"geoshape","stroke":"#808080","strokeWidth":1,"clip":true},"encoding":{"color":{"field":"properties.patients","type":"quantitative","scale":{"type":"linear","domain":[100,240,400,730],"range":["#dddfde","#bfc2c1","#9aa0a3","#666c75"]},"legend":null}}},
{"data":{"name":"placeNames"},"mark":{"type":"text","font":"Roboto","fontSize":11},"encoding":{"longitude":{"field":"lon","type":"quantitative"},"latitude":{"field":"lat","type":"quantitative"},"text":{"field":"place"},"color":{"condition":{"test":"datum.tone==='a'","value":"#a4a4a4"},"value":"#c6c8c7"}}},
{"data":{"name":"attributionBox"},"mark":{"type":"geoshape","fill":"#ffffff","fillOpacity":0.85,"stroke":null,"clip":true}},
{"data":{"name":"attribution"},"mark":{"type":"text","font":"Roboto","fontSize":10.7,"align":"left","color":"#444444"},"encoding":{"longitude":{"field":"lon","type":"quantitative"},"latitude":{"field":"lat","type":"quantitative"},"text":{"field":"note"}}}]}
]}
]}
]}
